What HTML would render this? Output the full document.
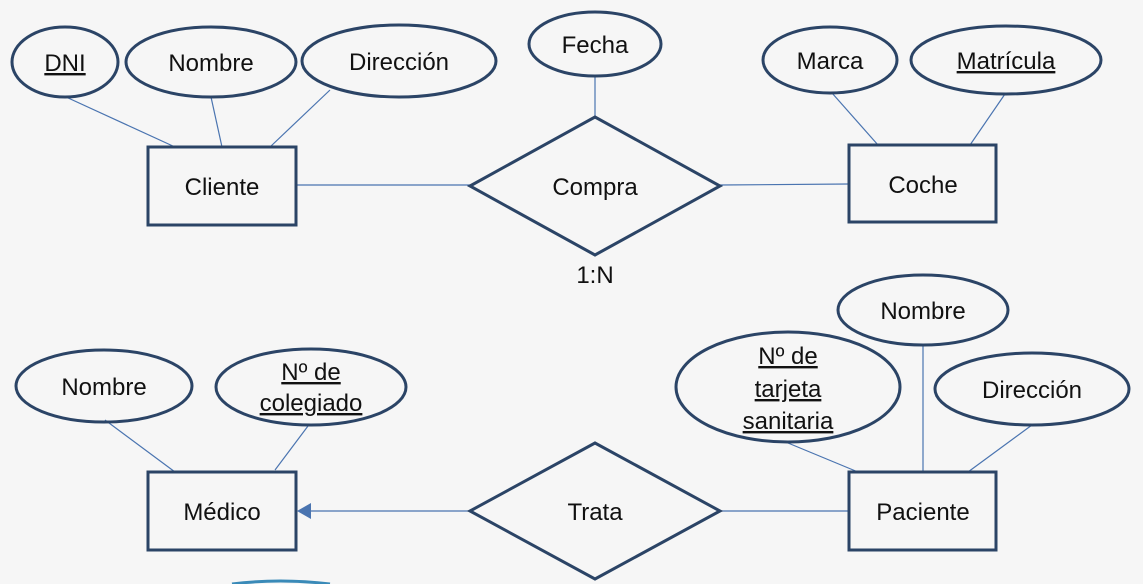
<!DOCTYPE html>
<html><head><meta charset="utf-8"><style>
html,body{margin:0;padding:0;background:#f6f6f6;}
svg{display:block;}
text{font-family:"Liberation Sans",sans-serif;font-size:24px;fill:#111;text-anchor:middle;}
.s{fill:none;stroke:#2b4466;stroke-width:3;}
.l{stroke:#4a74b0;stroke-width:1.2;fill:none;}
.u{text-decoration:underline;}
</style></head><body>
<svg width="1143" height="584" viewBox="0 0 1143 584" xmlns="http://www.w3.org/2000/svg">
<rect width="1143" height="584" fill="#f6f6f6"/>
<line class="l" x1="66" y1="97" x2="175" y2="147"/>
<line class="l" x1="211" y1="97" x2="222" y2="147"/>
<line class="l" x1="330" y1="90" x2="270" y2="147"/>
<line class="l" x1="595" y1="76" x2="595" y2="117"/>
<line class="l" x1="832" y1="93" x2="878" y2="145"/>
<line class="l" x1="1005" y1="94" x2="970" y2="145"/>
<line class="l" x1="296" y1="185" x2="470" y2="185"/>
<line class="l" x1="720" y1="185" x2="849" y2="184"/>
<line class="l" x1="105" y1="420" x2="175" y2="472"/>
<line class="l" x1="308" y1="426" x2="275" y2="470"/>
<line class="l" x1="923" y1="345" x2="923" y2="472"/>
<line class="l" x1="788" y1="443" x2="858" y2="472"/>
<line class="l" x1="1032" y1="425" x2="968" y2="472"/>
<line class="l" x1="720" y1="511" x2="849" y2="511"/>
<line class="l" x1="470" y1="511" x2="310" y2="511"/>
<polygon points="297,511 311,503 311,519" fill="#4a74b0"/>
<ellipse class="s" cx="65" cy="62" rx="53" ry="35"/>
<text x="65" y="71" class="u">DNI</text>
<ellipse class="s" cx="211" cy="62" rx="85" ry="35"/>
<text x="211" y="71">Nombre</text>
<ellipse class="s" cx="399" cy="61" rx="97" ry="36"/>
<text x="399" y="70">Dirección</text>
<rect class="s" x="148" y="147" width="148" height="78"/>
<text x="222" y="195">Cliente</text>
<ellipse class="s" cx="595" cy="44" rx="66" ry="32"/>
<text x="595" y="53">Fecha</text>
<polygon class="s" points="470,186 595,117 720,186 595,255"/>
<text x="595" y="195">Compra</text>
<text x="595" y="283">1:N</text>
<ellipse class="s" cx="830" cy="60" rx="67" ry="33"/>
<text x="830" y="69">Marca</text>
<ellipse class="s" cx="1006" cy="60" rx="95" ry="34"/>
<text x="1006" y="69" class="u">Matrícula</text>
<rect class="s" x="849" y="145" width="147" height="77"/>
<text x="923" y="193">Coche</text>
<ellipse class="s" cx="104" cy="386" rx="88" ry="36"/>
<text x="104" y="395">Nombre</text>
<ellipse class="s" cx="311" cy="387" rx="95" ry="38"/>
<text x="311" y="380" class="u">Nº de</text>
<text x="311" y="411" class="u">colegiado</text>
<rect class="s" x="148" y="472" width="148" height="78"/>
<text x="222" y="520">Médico</text>
<polygon class="s" points="470,511 595,443 720,511 595,579"/>
<text x="595" y="520">Trata</text>
<ellipse class="s" cx="923" cy="310" rx="85" ry="35"/>
<text x="923" y="319">Nombre</text>
<ellipse class="s" cx="788" cy="387" rx="112" ry="55"/>
<text x="788" y="364" class="u">Nº de</text>
<text x="788" y="397" class="u">tarjeta</text>
<text x="788" y="429" class="u">sanitaria</text>
<ellipse class="s" cx="1032" cy="389" rx="97" ry="36"/>
<text x="1032" y="398">Dirección</text>
<rect class="s" x="849" y="472" width="147" height="78"/>
<text x="923" y="520">Paciente</text>
<path d="M232,584 Q280,578 330,584" stroke="#3a8ab8" stroke-width="3" fill="none"/>
</svg>
</body></html>
